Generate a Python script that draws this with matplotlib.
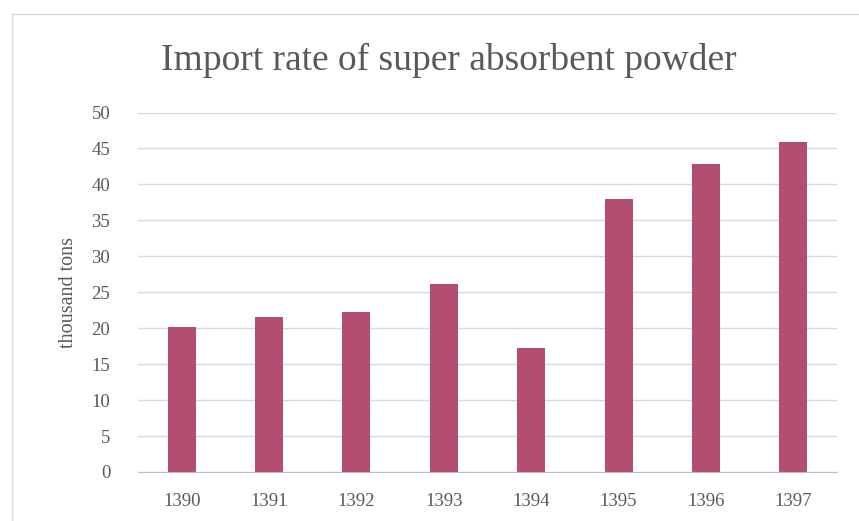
import matplotlib
matplotlib.use("Agg")
import matplotlib.pyplot as plt
from matplotlib.patches import Rectangle

years = ["1390", "1391", "1392", "1393", "1394", "1395", "1396", "1397"]
values = [20.1, 21.5, 22.2, 26.2, 17.2, 37.9, 42.9, 45.9]
yticks = [0, 5, 10, 15, 20, 25, 30, 35, 40, 45, 50]

plt.rcParams['font.family'] = ['Liberation Serif', 'DejaVu Serif']

fig = plt.figure(figsize=(8.59, 5.21), dpi=100)
fig.patch.set_facecolor('white')
fig.patches.append(Rectangle((12/859, -0.01), 1.0, 1 - 14/521 + 0.01, transform=fig.transFigure,
                             fill=False, edgecolor='#D9D9D9', linewidth=1.0))

ax = fig.add_axes([138/859, 1 - 472/521, (837-138)/859, (472-112.5)/521])
x = range(len(years))
ax.bar(x, values, width=0.32, color='#B44E70', zorder=3)
ax.set_xlim(-0.5, len(years) - 0.5)
ax.set_ylim(0, 50)
ax.set_yticks(yticks)
ax.set_xticks(list(x))
ax.set_xticklabels(years)
ax.grid(axis='y', color='#D9D9D9', linewidth=1.0, zorder=0)
for s in ['top', 'right', 'left']:
    ax.spines[s].set_visible(False)
ax.spines['bottom'].set_color('#BFBFBF')
ax.spines['bottom'].set_zorder(4)
ax.tick_params(axis='both', length=0, labelsize=13.5, labelcolor='#595959')
ax.tick_params(axis='x', pad=15)
ax.tick_params(axis='y', pad=20)
ax.set_ylabel('thousand tons', fontsize=14.5, color='#595959', labelpad=10)
fig.text(0.522, 1 - 60/521, 'Import rate of super absorbent powder', ha='center', va='center',
         fontsize=27, color='#595959')

fig.savefig('out.png', dpi=100)
